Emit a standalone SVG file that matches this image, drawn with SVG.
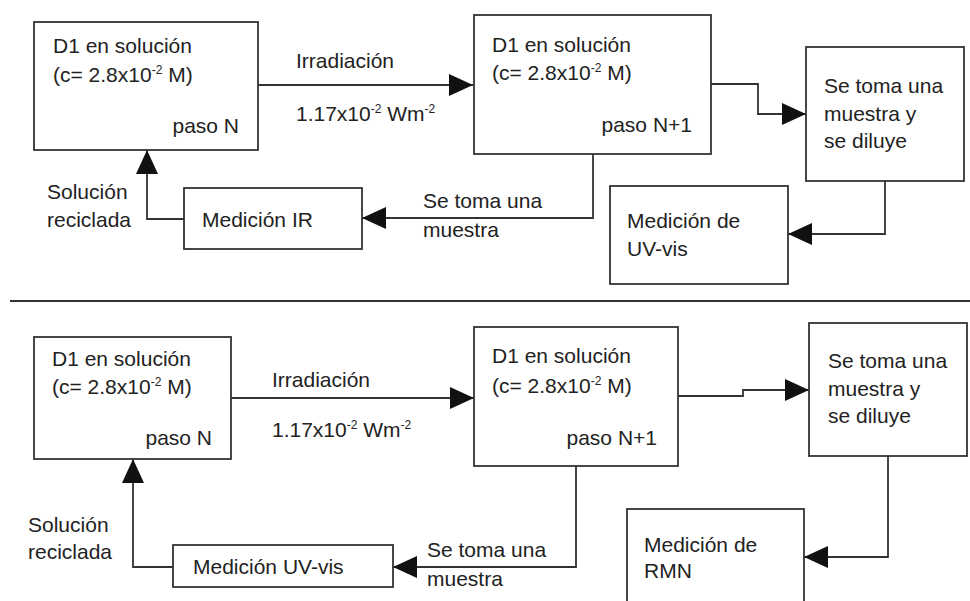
<svg xmlns="http://www.w3.org/2000/svg" width="970" height="601" viewBox="0 0 970 601">
<style>
  .box { fill: #ffffff; stroke: #333333; stroke-width: 1.8; }
  .con { fill: none; stroke: #333333; stroke-width: 1.8; marker-end: url(#arr); }
  .sep { fill: none; stroke: #333333; stroke-width: 1.8; }
  text { font-family: "Liberation Sans", Arial, sans-serif; font-size: 21px; fill: #222222; }
  .end { text-anchor: end; }
  .sup { font-size: 12px; }
</style>
<defs>
  <marker id="arr" markerUnits="userSpaceOnUse" markerWidth="24" markerHeight="22" viewBox="0 0 24 22" refX="24" refY="11" orient="auto">
    <path d="M0,0 L24,11 L0,22 Z" fill="#111111"/>
  </marker>
</defs>
<rect width="970" height="601" fill="#ffffff"/>

<g id="connectors">
  <path class="con" d="M258,85 H473"/>
  <path class="con" d="M711,84 H758 V114 H806"/>
  <path class="con" d="M885,181 V234 H788"/>
  <path class="con" d="M593,154 V218 H362"/>
  <path class="con" d="M184,219 H147 V150"/>
  <path class="con" d="M231,398 H474"/>
  <path class="con" d="M678,396 H743 V390 H809"/>
  <path class="con" d="M888,456 V557 H804"/>
  <path class="con" d="M576,466 V567 H393"/>
  <path class="con" d="M173,567 H133 V459"/>
</g>

<path class="sep" d="M10,301 H970"/>

<g id="n1">
  <rect class="box" x="34" y="22" width="224" height="128"/>
  <text x="53" y="53">D1 en solución</text>
  <text x="53" y="82">(c= 2.8x10<tspan class="sup" dy="-8">-2</tspan><tspan dy="8"> M)</tspan></text>
  <text class="end" x="239" y="133">paso N</text>
</g>
<g id="n2">
  <rect class="box" x="474" y="15" width="237" height="139"/>
  <text x="492" y="52">D1 en solución</text>
  <text x="492" y="80">(c= 2.8x10<tspan class="sup" dy="-8">-2</tspan><tspan dy="8"> M)</tspan></text>
  <text class="end" x="692" y="132">paso N+1</text>
</g>
<g id="n3">
  <rect class="box" x="806" y="47" width="158" height="134"/>
  <text x="824" y="93">Se toma una</text>
  <text x="824" y="121">muestra y</text>
  <text x="824" y="148">se diluye</text>
</g>
<g id="n4">
  <rect class="box" x="184" y="188" width="178" height="61"/>
  <text x="202" y="227">Medición IR</text>
</g>
<g id="n5">
  <rect class="box" x="610" y="186" width="178" height="98"/>
  <text x="627" y="228">Medición de</text>
  <text x="627" y="256">UV-vis</text>
</g>
<g id="labels-top">
  <text x="296" y="68">Irradiación</text>
  <text x="296" y="121">1.17x10<tspan class="sup" dy="-8">-2</tspan><tspan dy="8"> Wm</tspan><tspan class="sup" dy="-8">-2</tspan></text>
  <text x="47" y="199">Solución</text>
  <text x="47" y="227">reciclada</text>
  <text x="423" y="208">Se toma una</text>
  <text x="423" y="237">muestra</text>
</g>

<g id="n6">
  <rect class="box" x="34" y="337" width="197" height="122"/>
  <text x="52" y="366">D1 en solución</text>
  <text x="52" y="394">(c= 2.8x10<tspan class="sup" dy="-8">-2</tspan><tspan dy="8"> M)</tspan></text>
  <text class="end" x="212" y="445">paso N</text>
</g>
<g id="n7">
  <rect class="box" x="474" y="327" width="204" height="139"/>
  <text x="492" y="363">D1 en solución</text>
  <text x="492" y="393">(c= 2.8x10<tspan class="sup" dy="-8">-2</tspan><tspan dy="8"> M)</tspan></text>
  <text class="end" x="657" y="445">paso N+1</text>
</g>
<g id="n8">
  <rect class="box" x="809" y="323" width="158" height="133"/>
  <text x="828" y="368">Se toma una</text>
  <text x="828" y="396">muestra y</text>
  <text x="828" y="423">se diluye</text>
</g>
<g id="n9">
  <rect class="box" x="173" y="545" width="220" height="42"/>
  <text x="193" y="574">Medición UV-vis</text>
</g>
<g id="n10">
  <rect class="box" x="627" y="509" width="177" height="100"/>
  <text x="644" y="552">Medición de</text>
  <text x="644" y="578">RMN</text>
</g>
<g id="labels-bottom">
  <text x="272" y="387">Irradiación</text>
  <text x="272" y="437">1.17x10<tspan class="sup" dy="-8">-2</tspan><tspan dy="8"> Wm</tspan><tspan class="sup" dy="-8">-2</tspan></text>
  <text x="28" y="532">Solución</text>
  <text x="28" y="559">reciclada</text>
  <text x="427" y="557">Se toma una</text>
  <text x="427" y="586">muestra</text>
</g>
</svg>
